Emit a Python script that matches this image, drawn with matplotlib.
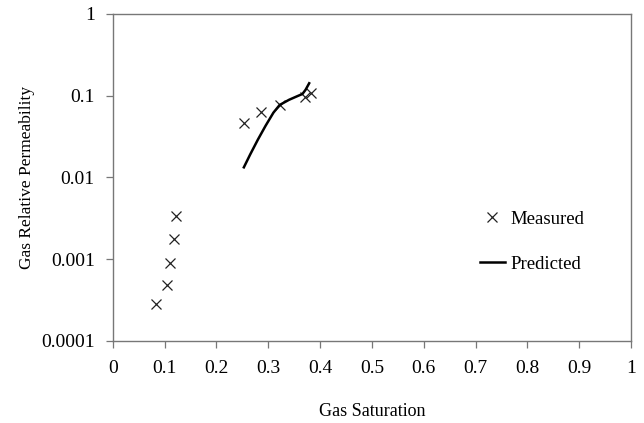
#!/usr/bin/env python3
"""
Gas relative permeability versus gas saturation: measured points and predicted curve.
"""

import matplotlib
matplotlib.use("Agg")
import matplotlib.pyplot as plt
from matplotlib.ticker import FixedLocator, FixedFormatter

# Measured data
measured_sg = [0.084, 0.104, 0.111, 0.118, 0.122, 0.254, 0.286, 0.322, 0.370, 0.383]
measured_krg = [0.00028, 0.00048, 0.00089, 0.00175, 0.00338, 0.047, 0.063, 0.077, 0.097, 0.109]

# Predicted curve
predicted_sg = [0.253, 0.265, 0.280, 0.295, 0.310, 0.322, 0.340, 0.355, 0.366, 0.372, 0.379]
predicted_krg = [0.0133, 0.019, 0.029, 0.043, 0.062, 0.077, 0.089, 0.098, 0.105, 0.118, 0.142]

x_ticks = [0, 0.1, 0.2, 0.3, 0.4, 0.5, 0.6, 0.7, 0.8, 0.9, 1]
x_tick_labels = ["0", "0.1", "0.2", "0.3", "0.4", "0.5", "0.6", "0.7", "0.8", "0.9", "1"]
y_ticks = [0.0001, 0.001, 0.01, 0.1, 1]
y_tick_labels = ["0.0001", "0.001", "0.01", "0.1", "1"]

plt.rcParams["font.family"] = ["Liberation Serif", "DejaVu Serif"]
plt.rcParams["font.size"] = 13

fig = plt.figure(figsize=(6.44, 4.23), dpi=100)
ax = fig.add_axes([0.175, 0.194, 0.805, 0.773])

ax.plot(measured_sg, measured_krg, linestyle="none", marker="x", markersize=7.5,
        markeredgewidth=0.9, color="#222222", label="Measured")
ax.plot(predicted_sg, predicted_krg, color="black", linewidth=1.8, label="Predicted")

ax.set_yscale("log")
ax.set_xlim(0, 1)
ax.set_ylim(0.0001, 1)

ax.xaxis.set_major_locator(FixedLocator(x_ticks))
ax.xaxis.set_major_formatter(FixedFormatter(x_tick_labels))
ax.yaxis.set_major_locator(FixedLocator(y_ticks))
ax.yaxis.set_major_formatter(FixedFormatter(y_tick_labels))
ax.yaxis.set_minor_locator(FixedLocator([]))

for spine in ax.spines.values():
    spine.set_color("#777777")
    spine.set_linewidth(1.0)

ax.tick_params(axis="both", direction="out", length=5, width=0.9, color="#777777",
               labelsize=14, labelcolor="black")
ax.tick_params(axis="x", pad=9)
ax.tick_params(axis="y", pad=8)

ax.set_xlabel("Gas Saturation", fontsize=13, labelpad=18.5)
ax.set_ylabel("Gas Relative Permeability", fontsize=12.5, labelpad=4)

ax.legend(loc="upper left", bbox_to_anchor=(0.675, 0.45), frameon=False,
          handlelength=1.35, handletextpad=0.3, labelspacing=1.5, fontsize=13.5)

plt.savefig("out.png", dpi=100)
plt.close(fig)
